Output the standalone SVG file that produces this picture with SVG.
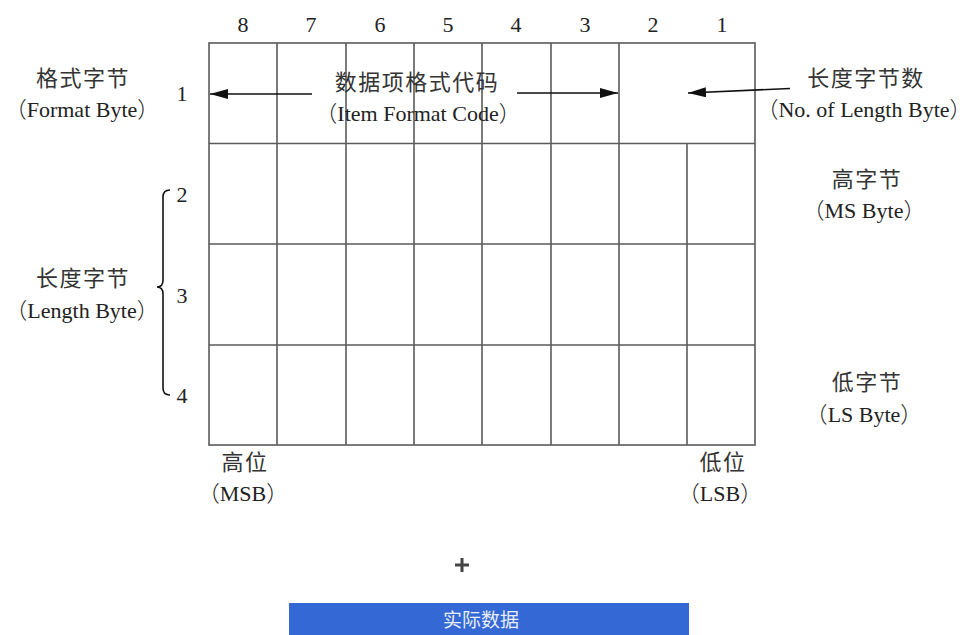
<svg xmlns="http://www.w3.org/2000/svg" width="972" height="635" viewBox="0 0 972 635">
<defs>
<style>
.t{font-family:"Liberation Serif","Noto Sans CJK SC",serif;font-size:22px;fill:#222;text-anchor:middle}
.z{letter-spacing:1.5px;fill:#333}
.p{font-family:"Noto Sans CJK SC",sans-serif;font-weight:300}
.g{stroke:#5a5a5a;stroke-width:1.6;fill:none}
.c{stroke:#111;stroke-width:1.6;fill:none}
</style>
<marker id="ah" viewBox="0 0 18 10" refX="18" refY="5" markerWidth="18" markerHeight="10" markerUnits="userSpaceOnUse" orient="auto">
<path d="M0,0 L18,5 L0,10 Z" fill="#111"/>
</marker>
</defs>
<rect width="972" height="635" fill="#fff"/>

<g id="bit-numbers">
<text class="t" x="243" y="32">8</text>
<text class="t" x="311" y="32">7</text>
<text class="t" x="380" y="32">6</text>
<text class="t" x="448" y="32">5</text>
<text class="t" x="516" y="32">4</text>
<text class="t" x="585" y="32">3</text>
<text class="t" x="653" y="32">2</text>
<text class="t" x="722" y="32">1</text>
</g>

<g id="table">
<rect class="g" x="209" y="43" width="546" height="402"/>
<line class="g" x1="209" y1="143.5" x2="755" y2="143.5"/>
<line class="g" x1="209" y1="244" x2="755" y2="244"/>
<line class="g" x1="209" y1="345" x2="755" y2="345"/>
<line class="g" x1="277" y1="43" x2="277" y2="445"/>
<line class="g" x1="346" y1="43" x2="346" y2="445"/>
<line class="g" x1="414" y1="43" x2="414" y2="445"/>
<line class="g" x1="482" y1="43" x2="482" y2="445"/>
<line class="g" x1="551" y1="43" x2="551" y2="445"/>
<line class="g" x1="619" y1="43" x2="619" y2="445"/>
<line class="g" x1="687" y1="143.5" x2="687" y2="445"/>
</g>

<g id="format-byte">
<text class="t z" x="83" y="86">格式字节</text>
<text class="t" x="82" y="117"><tspan class="p">（</tspan>Format Byte<tspan class="p">）</tspan></text>
<text class="t" x="182" y="101">1</text>
</g>

<g id="item-format-code">
<text class="t z" x="417" y="90">数据项格式代码</text>
<text class="t" x="418" y="121"><tspan class="p">（</tspan>Item Format Code<tspan class="p">）</tspan></text>
</g>

<g id="no-of-length-byte">
<text class="t z" x="866" y="86">长度字节数</text>
<text class="t" x="864" y="117"><tspan class="p">（</tspan>No. of Length Byte<tspan class="p">）</tspan></text>
</g>

<g id="length-byte">
<text class="t z" x="83" y="286">长度字节</text>
<text class="t" x="82" y="318"><tspan class="p">（</tspan>Length Byte<tspan class="p">）</tspan></text>
<text class="t" x="182" y="202">2</text>
<text class="t" x="182" y="303">3</text>
<text class="t" x="182" y="403">4</text>
</g>

<g id="ms-byte">
<text class="t z" x="867" y="187">高字节</text>
<text class="t" x="864" y="218"><tspan class="p">（</tspan>MS Byte<tspan class="p">）</tspan></text>
</g>

<g id="ls-byte">
<text class="t z" x="867" y="390">低字节</text>
<text class="t" x="864" y="422"><tspan class="p">（</tspan>LS Byte<tspan class="p">）</tspan></text>
</g>

<g id="msb">
<text class="t z" x="245" y="470">高位</text>
<text class="t" x="243" y="501"><tspan class="p">（</tspan>MSB<tspan class="p">）</tspan></text>
</g>

<g id="lsb">
<text class="t z" x="723" y="470">低位</text>
<text class="t" x="720" y="501"><tspan class="p">（</tspan>LSB<tspan class="p">）</tspan></text>
</g>

<g id="connectors">
<line class="c" x1="312" y1="94" x2="210" y2="94" marker-end="url(#ah)"/>
<line class="c" x1="517" y1="93" x2="618" y2="93" marker-end="url(#ah)"/>
<line class="c" x1="790" y1="88.5" x2="688" y2="93" marker-end="url(#ah)"/>
<path class="c" d="M170,190 Q163,190 163,197 L163,280 Q163,287 157,287 Q163,287 163,294 L163,388 Q163,395 170,395" stroke="#333"/>
</g>

<g id="plus">
<path d="M455,565 H469 M462,558 V572" stroke="#444" stroke-width="3" fill="none"/>
</g>

<g id="actual-data">
<rect x="289" y="603" width="400" height="32" fill="#3468d4"/>
<text x="481" y="627" font-family="'Noto Sans CJK SC',sans-serif" font-size="19" fill="#e8eefa" text-anchor="middle">实际数据</text>
</g>
</svg>
